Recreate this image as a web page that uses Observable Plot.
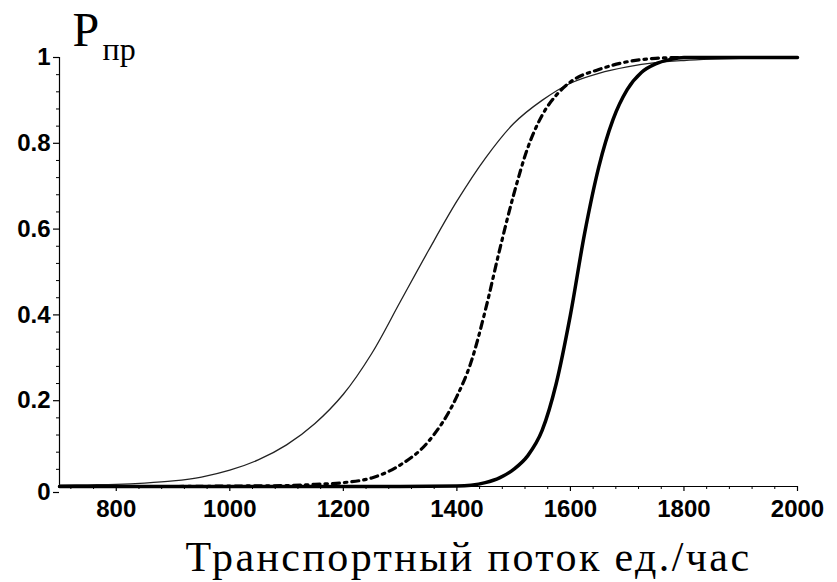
<!DOCTYPE html>
<html>
<head>
<meta charset="utf-8">
<script src="https://cdn.jsdelivr.net/npm/d3@7"></script>
<script src="https://cdn.jsdelivr.net/npm/@observablehq/plot@0.6"></script>
<style>
html, body { margin: 0; padding: 0; background: #fff; }
.xtitle text { letter-spacing: 2.4px; }
</style>
</head>
<body>
<div id="chart"></div>
<script>
// Thin solid curve
const thinX = [700, 750, 800, 850, 900, 950, 1000, 1050, 1100, 1150, 1200, 1250, 1300, 1350, 1400, 1450, 1500, 1550, 1600, 1650, 1700, 1750, 1800, 1850, 1900, 2000];
const thinY = [0.003, 0.004, 0.005, 0.008, 0.013, 0.022, 0.038, 0.062, 0.097, 0.147, 0.215, 0.31, 0.43, 0.55, 0.665, 0.765, 0.846, 0.9, 0.94, 0.963, 0.978, 0.988, 0.993, 0.996, 0.998, 1.0];
// Dash-dot curve
const dashX = [700, 800, 900, 1000, 1100, 1150, 1200, 1250, 1300, 1350, 1400, 1425, 1450, 1475, 1500, 1525, 1550, 1575, 1600, 1650, 1700, 1750, 1800, 2000];
const dashY = [0.0, 0.0, 0.0, 0.001, 0.002, 0.005, 0.009, 0.02, 0.05, 0.105, 0.21, 0.29, 0.41, 0.55, 0.68, 0.79, 0.865, 0.912, 0.943, 0.972, 0.99, 0.998, 1.0, 1.0];
// Thick solid curve
const thickX = [700, 1000, 1300, 1400, 1425, 1450, 1475, 1500, 1525, 1550, 1575, 1600, 1625, 1650, 1675, 1700, 1725, 1750, 1775, 1800, 2000];
const thickY = [0.0, 0.0, 0.0, 0.001, 0.003, 0.009, 0.02, 0.04, 0.072, 0.13, 0.24, 0.40, 0.59, 0.745, 0.855, 0.925, 0.965, 0.985, 0.995, 1.0, 1.0];

// Tick labels
const xMajor = [800, 1000, 1200, 1400, 1600, 1800, 2000];
const yMajor = [0, 0.2, 0.4, 0.6, 0.8, 1];
const yLabels = ["0", "0.2", "0.4", "0.6", "0.8", "1"];
const yTitle = "P";
const yTitleSub = "пр";
const xTitle = "Транспортный поток ед./час";

const xMinor = d3.range(720, 2001, 40).filter(v => !xMajor.includes(v));
const yMinor = d3.range(0, 1.0001, 0.04).map(v => +v.toFixed(2)).filter(v => !yMajor.some(m => Math.abs(m - v) < 1e-6));

const toRows = (xs, ys) => xs.map((x, i) => ({x, y: ys[i]}));
const thin = toRows(thinX, thinY);
const dash = toRows(dashX, dashY);
const thick = toRows(thickX, thickY);

const SERIF = "Liberation Serif, DejaVu Serif, serif";
const tickFont = {fontSize: 24, fontWeight: "bold", fontFamily: "Liberation Sans", fill: "#000"};

const chart = Plot.plot({
  width: 837,
  height: 582,
  marginLeft: 59,
  marginRight: 40,
  marginTop: 57,
  marginBottom: 96,
  x: {type: "linear", domain: [700, 2000]},
  y: {type: "linear", domain: [0, 1]},
  style: {background: "#fff", color: "#000"},
  marks: [
    Plot.ruleY([0], {stroke: "#000", strokeWidth: 1.2}),
    Plot.ruleX([700], {stroke: "#000", strokeWidth: 1.2}),
    Plot.axisX({ticks: xMajor, tickSize: 5, tickPadding: 8, label: null, tickFormat: d => String(d), ...tickFont, stroke: "#000", strokeWidth: 1.2}),
    Plot.axisX({ticks: xMinor, tickSize: 3, text: null, label: null, stroke: "#000", strokeWidth: 1}),
    Plot.axisY({ticks: yMajor.filter(v => v > 0), tickSize: 6, tickPadding: 3, label: null, tickFormat: (d) => yLabels[yMajor.indexOf(d)], ...tickFont, stroke: "#000", strokeWidth: 1.2}),
    Plot.axisY({ticks: [0], tickSize: 6, tickPadding: 3, label: null, tickFormat: () => "0", ...tickFont, dy: 6, stroke: "#000", strokeWidth: 1.2}),
    Plot.axisY({ticks: yMinor, tickSize: 3, text: null, label: null, stroke: "#000", strokeWidth: 1}),
    Plot.line(thin, {x: "x", y: "y", curve: "catmull-rom", stroke: "#222", strokeWidth: 1.3}),
    Plot.line(dash, {x: "x", y: "y", curve: "monotone-x", stroke: "#000", strokeWidth: 3.2, strokeDasharray: "7,5,2.5,5"}),
    Plot.line(thick, {x: "x", y: "y", curve: "monotone-x", stroke: "#000", strokeWidth: 3.5}),
    Plot.text([yTitle], {frameAnchor: "top-left", dx: 13, dy: -12, text: d => d, textAnchor: "start", lineAnchor: "bottom", fontSize: 48, fontFamily: SERIF, fill: "#000"}),
    Plot.text([yTitleSub], {frameAnchor: "top-left", dx: 43, dy: 2, text: d => d, textAnchor: "start", lineAnchor: "bottom", fontSize: 32, fontFamily: SERIF, fill: "#000"}),
    Plot.text([xTitle], {frameAnchor: "bottom", dx: 40, dy: 84, text: d => d, textAnchor: "middle", lineAnchor: "bottom", fontSize: 42, fontFamily: SERIF, fill: "#000", className: "xtitle"})
  ]
});
document.getElementById("chart").appendChild(chart);
</script>
</body>
</html>
